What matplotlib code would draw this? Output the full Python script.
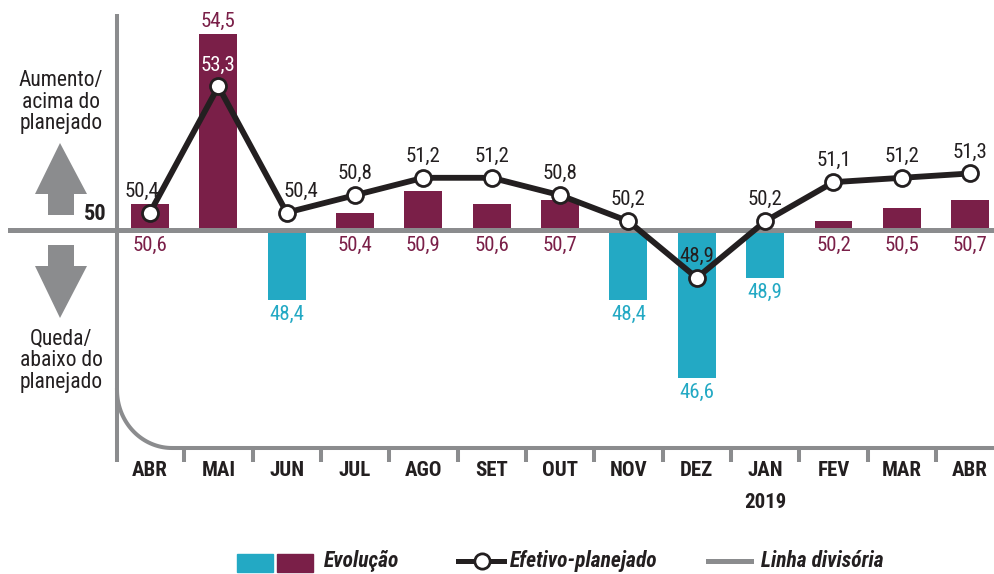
import numpy as np
import matplotlib.pyplot as plt
from matplotlib import font_manager
from matplotlib.patches import Polygon, Rectangle
from matplotlib.lines import Line2D

# dados: índice (>50 = aumento) e efetivo vs planejado
months = ['ABR', 'MAI', 'JUN', 'JUL', 'AGO', 'SET', 'OUT', 'NOV', 'DEZ', 'JAN', 'FEV', 'MAR', 'ABR']
evolucao = [50.6, 54.5, 48.4, 50.4, 50.9, 50.6, 50.7, 48.4, 46.6, 48.9, 50.2, 50.5, 50.7]
efetivo = [50.4, 53.3, 50.4, 50.8, 51.2, 51.2, 50.8, 50.2, 48.9, 50.2, 51.1, 51.2, 51.3]
divisoria = 50

maroon = '#7a1f48'
cyan = '#23a9c4'
grey = '#8b8c8e'
ink = '#231f20'

installed = {f.name for f in font_manager.fontManager.ttflist}
fam = 'DejaVu Sans'
for name in ['Liberation Sans Narrow', 'DejaVu Sans Condensed', 'Roboto Condensed', 'Open Sans Condensed']:
    if name in installed:
        fam = name
        break
plt.rcParams['font.family'] = [fam, 'DejaVu Sans']
if fam == 'DejaVu Sans':
    plt.rcParams['font.stretch'] = 'condensed'

W, H = 995, 574
fig = plt.figure(figsize=(W / 100, H / 100), dpi=100)
ax = fig.add_axes([0, 0, 1, 1])

# pixel layout of the reference
x0, dx = 150, 68.35
y0, dy = 230, 43.5
ax.set_xlim(-x0 / dx, (W - x0) / dx)
ax.set_ylim(divisoria - (H - y0) / dy, divisoria + y0 / dy)
ax.axis('off')


def px(x, y):
    return (x - x0) / dx, divisoria - (y - y0) / dy


x = np.arange(len(months))
ev = np.array(evolucao)
ef = np.array(efetivo)

colors = [maroon if v >= divisoria else cyan for v in ev]
ax.bar(x, ev - divisoria, bottom=divisoria, width=0.555, color=colors, zorder=2)

# linha divisória
ax.axhline(divisoria, xmin=10 / W, xmax=1, color=grey, lw=3.6, zorder=3)

# eixo vertical e eixo inferior curvo
vx, vy = zip(px(117, 14), px(117, 462))
ax.plot(vx, vy, color=grey, lw=2.9, zorder=3, solid_capstyle='butt')
t = np.linspace(np.pi, 1.5 * np.pi, 40)
cxs = 172 + 55 * np.cos(t)
cys = 390 - 58 * np.sin(t)
cxs = np.append(cxs, W)
cys = np.append(cys, 448)
pts = [px(a, b) for a, b in zip(cxs, cys)]
ax.plot([p[0] for p in pts], [p[1] for p in pts], color=grey, lw=2.9, zorder=3)
tick_top = px(0, 448)[1]
tick_bot = px(0, 462)[1]
ax.vlines(x[:-1] + 0.5, tick_bot, tick_top, color=grey, lw=2.9, zorder=3)

# meses
ylab = px(0, 471)[1]
for i, m in enumerate(months):
    ax.text(i, ylab, m, ha='center', va='center', fontsize=15, fontweight='bold', color=ink)
ax.text(9, px(0, 502)[1], '2019', ha='center', va='center', fontsize=15, fontweight='bold', color=ink)

# linha efetivo-planejado
ax.plot(x, ef, color=ink, lw=4.2, marker='o', markersize=11.5, markerfacecolor='white',
        markeredgecolor=ink, markeredgewidth=2, zorder=5)

unit = 1 / dy  # one pixel in data units
# rótulos das barras
for i, v in enumerate(ev):
    lab = f'{v:.1f}'.replace('.', ',')
    c = maroon if v >= divisoria else cyan
    if v >= divisoria and v - divisoria > 2:
        ax.text(i, v + 3 * unit, lab, ha='center', va='bottom', fontsize=15, color=c)
    elif v >= divisoria:
        ax.text(i, divisoria - 6 * unit, lab, ha='center', va='top', fontsize=15, color=c)
    else:
        ax.text(i, v - 5 * unit, lab, ha='center', va='top', fontsize=15, color=c)

# rótulos da linha
shift = {0: -8, 2: 14}
for i, v in enumerate(ef):
    lab = f'{v:.1f}'.replace('.', ',')
    inside = ev[i] > divisoria and v + 14 * unit < ev[i] - 10 * unit
    ax.text(i + shift.get(i, 0) / dx, v + 12 * unit, lab, ha='center', va='bottom',
            fontsize=15, color='white' if inside else ink, zorder=6)

# textos e setas à esquerda
ax.text(*px(61, 102), 'Aumento/\nacima do\nplanejado', ha='center', va='center',
        fontsize=15.5, color=ink, linespacing=1.05)
ax.text(*px(61, 361), 'Queda/\nabaixo do\nplanejado', ha='center', va='center',
        fontsize=15.5, color=ink, linespacing=1.05)
ax.text(*px(107, 214), '50', ha='right', va='center', fontsize=16, fontweight='bold', color=ink)

up = [(48, 215), (74, 215), (74, 194), (87, 194), (60, 143), (35, 194), (48, 194)]
down = [(48, 245), (74, 245), (74, 266), (87, 266), (60, 318), (35, 266), (48, 266)]
for shape in (up, down):
    ax.add_patch(Polygon([px(a, b) for a, b in shape], closed=True, color=grey, lw=0, zorder=2))

# legenda
def fpx(xp, yp):
    return xp / W, 1 - yp / H

ly = 561
fig.patches.append(Rectangle(fpx(237, 572), 36 / W, 18 / H, transform=fig.transFigure, color=cyan))
fig.patches.append(Rectangle(fpx(277, 572), 36 / W, 18 / H, transform=fig.transFigure, color=maroon))
fig.text(*fpx(324, ly), 'Evolução', ha='left', va='center', fontsize=15.5,
         fontweight='bold', fontstyle='italic', color=ink)
lx, lyy = zip(fpx(458, ly), fpx(504, ly))
fig.add_artist(Line2D(lx, lyy, transform=fig.transFigure, color=ink, lw=3.6))
fig.add_artist(Line2D([fpx(482, ly)[0]], [fpx(482, ly)[1]], transform=fig.transFigure,
                      marker='o', markersize=11, markerfacecolor='white', markeredgecolor=ink,
                      markeredgewidth=2, lw=0))
fig.text(*fpx(510, ly), 'Efetivo-planejado', ha='left', va='center', fontsize=15.5,
         fontweight='bold', fontstyle='italic', color=ink)
gx, gy = zip(fpx(708, ly), fpx(751, ly))
fig.add_artist(Line2D(gx, gy, transform=fig.transFigure, color=grey, lw=3.6))
fig.text(*fpx(761, ly), 'Linha divisória', ha='left', va='center', fontsize=15.5,
         fontweight='bold', fontstyle='italic', color=ink)

fig.savefig('out.png', dpi=100)
